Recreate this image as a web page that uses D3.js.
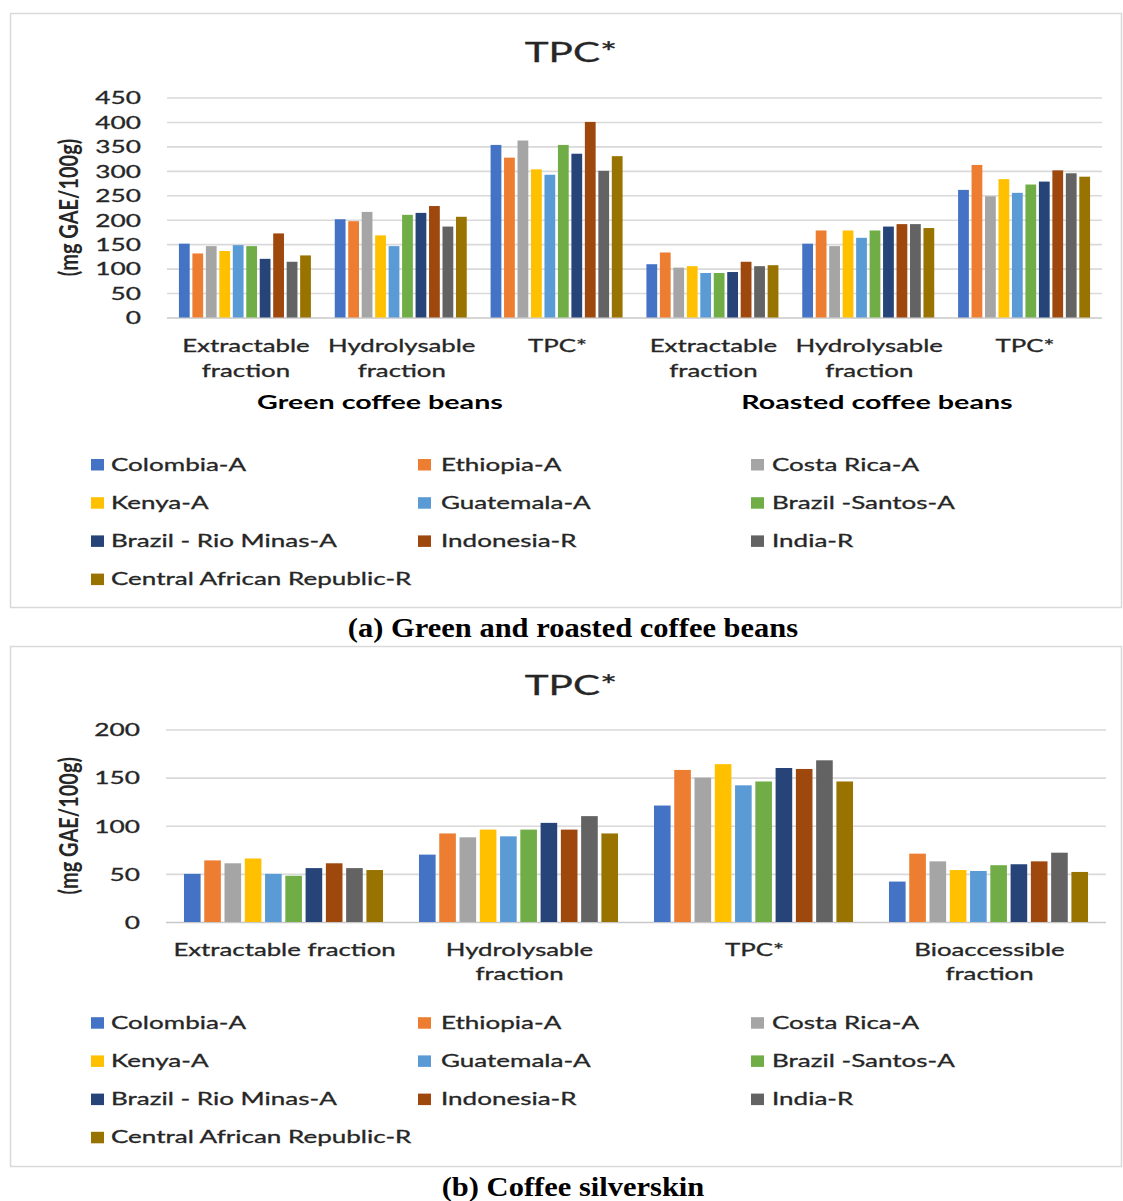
<!DOCTYPE html>
<html><head><meta charset="utf-8">
<script src="https://cdn.jsdelivr.net/npm/d3@7"></script>
<style>body{margin:0;background:#fff}svg{display:block}</style>
</head><body>
<script>
// ---------- DATA ----------
const seriesNames = ["Colombia-A","Ethiopia-A","Costa Rica-A","Kenya-A","Guatemala-A","Brazil -Santos-A","Brazil - Rio Minas-A","Indonesia-R","India-R","Central African Republic-R"];
const seriesColors = ["#4472C4","#ED7D31","#A5A5A5","#FFC000","#5B9BD5","#70AD47","#264478","#9E480E","#636363","#997300"];

// (a) Green and roasted coffee beans — values in series order
const beanCategories = ["Extractable fraction","Hydrolysable fraction","TPC*","Extractable fraction ","Hydrolysable fraction ","TPC* "];
const beanCategoryLabels = [["Extractable","fraction"],["Hydrolysable","fraction"],["TPC*"],["Extractable","fraction"],["Hydrolysable","fraction"],["TPC*"]];
const beanGroupLabels = ["Green coffee beans","Roasted coffee beans"];
const greenExtractable   = [151,131,146,136,148,146,120,172,114,127];
const greenHydrolysable  = [201,197,216,168,146,210,214,228,186,206];
const greenTPC           = [353,327,362,303,292,353,335,400,300,330];
const roastedExtractable = [109,133,102,105, 91, 91, 93,114,105,107];
const roastedHydrolysable= [151,178,146,178,163,178,186,191,191,183];
const roastedTPC         = [261,312,248,283,255,272,278,301,295,288];
const beanTicks = [0,50,100,150,200,250,300,350,400,450];

// (b) Coffee silverskin
const skinCategories = ["Extractable fraction","Hydrolysable fraction","TPC*","Bioaccessible fraction"];
const skinCategoryLabels = [["Extractable fraction"],["Hydrolysable","fraction"],["TPC*"],["Bioaccessible","fraction"]];
const skinExtractable   = [50,64,61,66,50,48,56,61,56,54];
const skinHydrolysable  = [70,92,88,96,89,96,103,96,110,92];
const skinTPC           = [121,158,150,164,142,146,160,159,168,146];
const skinBioaccessible = [42,71,63,54,53,59,60,63,72,52];
const skinTicks = [0,50,100,150,200];

const yTitle = "(mg GAE/100g)";
const chartTitle = "TPC*";
const captionA = "(a) Green and roasted coffee beans";
const captionB = "(b) Coffee silverskin";

// ---------- DRAW ----------
const W = 1123, H = 1201, SX = 1.5;
const FONT = "Lato, 'Open Sans', 'DejaVu Sans', sans-serif";
const svg = d3.select("body").append("svg").attr("width", W).attr("height", H);

function stext(parent, x, y, s, o = {}) {
  const fill = o.fill || "#262626";
  return parent.append("text")
    .attr("transform", `translate(${x},${y}) scale(${o.sx ?? SX},1)` + (o.rot ? ` rotate(${o.rot})` : ""))
    .attr("text-anchor", o.anchor || "start")
    .attr("font-family", o.family || FONT)
    .attr("font-size", o.size || 16)
    .attr("font-weight", o.weight || 400)
    .attr("fill", fill)
    .attr("stroke", o.weight === 700 || o.family ? "none" : fill)
    .attr("stroke-width", 0.3)
    .text(s);
}

function drawPanel(cfg) {
  const g = svg.append("g");
  g.append("rect").attr("x", 10.5).attr("y", cfg.boxTop + 0.5).attr("width", 1111).attr("height", cfg.boxBottom - cfg.boxTop)
    .attr("fill", "none").attr("stroke", "#d9d9d9").attr("stroke-width", 1.5);
  stext(g, 571, cfg.titleY, chartTitle, {size: 27, anchor: "middle"});

  const x0 = d3.scaleBand().domain(cfg.categories).range([cfg.left, cfg.right]).paddingInner(0.153).paddingOuter(0.0765);
  const x1 = d3.scaleBand().domain(seriesNames).range([0, x0.bandwidth()]).paddingInner(cfg.barPad).paddingOuter(0);
  const y = d3.scaleLinear().domain([0, d3.max(cfg.ticks)]).range([cfg.bottom, cfg.top]);

  // y axis + grid
  const ya = g.append("g").attr("transform", `translate(${cfg.left},0)`)
    .call(d3.axisLeft(y).tickValues(cfg.ticks).tickSize(-(cfg.right - cfg.left)).tickFormat(d3.format("d")));
  ya.select(".domain").remove();
  ya.selectAll(".tick line").attr("stroke", d => d === 0 ? "#c8c8c8" : "#d9d9d9").attr("stroke-width", 1.6);
  ya.selectAll(".tick text").attr("x", null).attr("dy", "0.36em")
    .attr("transform", `translate(-26,0) scale(${SX},1)`)
    .attr("font-family", FONT).attr("font-size", 17.5).attr("fill", "#262626")
    .attr("stroke", "#262626").attr("stroke-width", 0.3);

  // bars
  const values = cfg.values;
  const cat = g.selectAll(".cat").data(cfg.categories).join("g").attr("transform", d => `translate(${x0(d)},0)`);
  cat.selectAll("rect").data((d, i) => seriesNames.map((s, j) => ({s, j, v: values[i][j]}))).join("rect")
    .attr("x", d => x1(d.s)).attr("width", x1.bandwidth())
    .attr("y", d => y(d.v)).attr("height", d => y(0) - y(d.v))
    .attr("fill", d => seriesColors[d.j]);

  // category axis
  const xa = g.append("g").attr("transform", `translate(0,${cfg.bottom})`).call(d3.axisBottom(x0).tickSize(0));
  xa.select(".domain").remove();
  xa.selectAll(".tick text").remove();
  xa.selectAll(".tick").each(function(d, i) {
    const lines = cfg.labels[i];
    lines.forEach((ln, k) => stext(d3.select(this), 1, cfg.labelY + k * 24.5, ln, {size: 17.2, anchor: "middle"}));
  });

  // y title
  stext(g, 78, (cfg.top + cfg.bottom) / 2, yTitle, {size: 20, weight: 700, anchor: "middle", rot: -90, sx: 1.35});

  // legend
  const cols = [[91, 111], [418, 441], [751, 772]];
  seriesNames.forEach((s, i) => {
    const c = cols[i % 3], r = Math.floor(i / 3);
    const by = cfg.legendY + r * 38.2;
    g.append("rect").attr("x", c[0]).attr("y", by - 11.5).attr("width", 13).attr("height", 11.5).attr("fill", seriesColors[i]);
    stext(g, c[1], by, s, {size: 17, sx: 1.53});
  });

  stext(g, 573, cfg.captionY, cfg.caption, {size: 27, weight: 700, anchor: "middle", family: "'Liberation Serif','Times New Roman',serif", sx: 1.13, fill: "#000"});
  return {g, x0};
}

const a = drawPanel({
  boxTop: 13, boxBottom: 607, titleY: 62,
  left: 167, right: 1102, top: 97.5, bottom: 317.5,
  categories: beanCategories, labels: beanCategoryLabels,
  values: [greenExtractable, greenHydrolysable, greenTPC, roastedExtractable, roastedHydrolysable, roastedTPC],
  ticks: beanTicks, barPad: 0.2, labelY: 34.5,
  legendY: 470.5, caption: captionA, captionY: 637
});
stext(a.g, 380, 409, beanGroupLabels[0], {size: 18.5, weight: 700, anchor: "middle", fill: "#000", sx: 1.55});
stext(a.g, 877, 409, beanGroupLabels[1], {size: 18.5, weight: 700, anchor: "middle", fill: "#000", sx: 1.55});

drawPanel({
  boxTop: 646, boxBottom: 1166, titleY: 695,
  left: 166, right: 1106, top: 729.5, bottom: 922,
  categories: skinCategories, labels: skinCategoryLabels,
  values: [skinExtractable, skinHydrolysable, skinTPC, skinBioaccessible],
  ticks: skinTicks, barPad: 0.18, labelY: 33.5,
  legendY: 1028.7, caption: captionB, captionY: 1196
});
</script>
</body></html>
